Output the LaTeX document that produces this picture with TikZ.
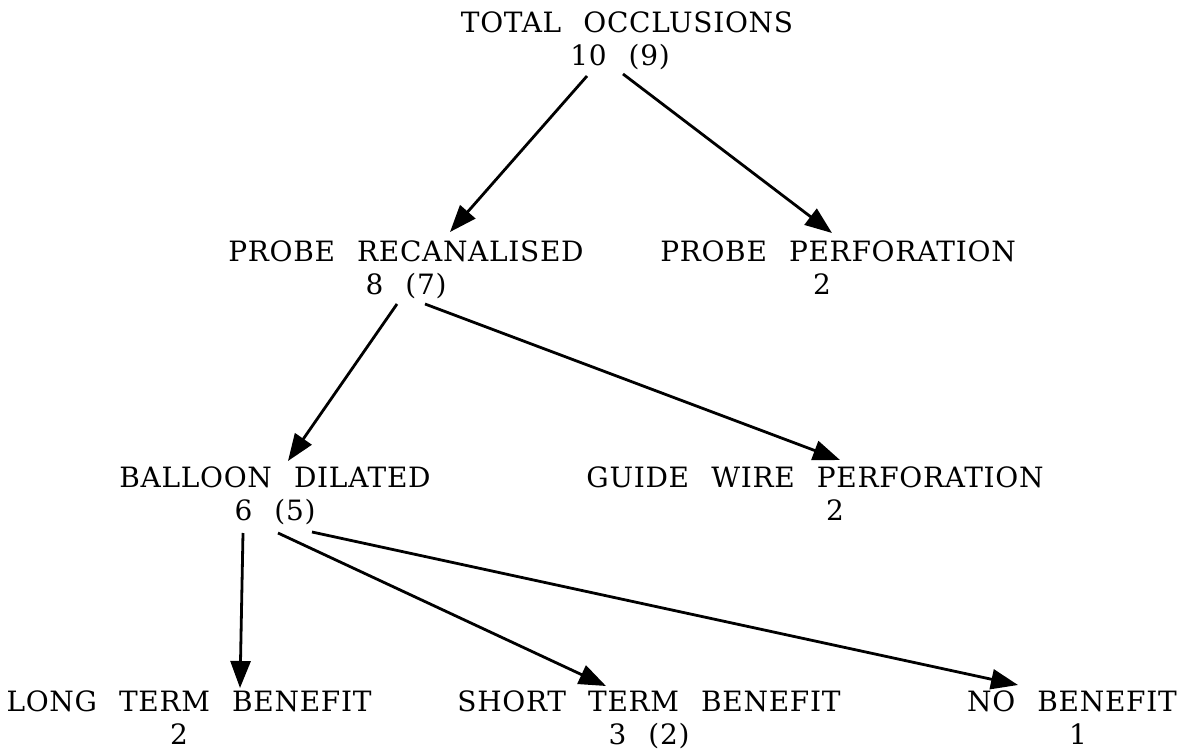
\documentclass[tikz,border=0pt]{standalone}
\usepackage{fontspec}
\setmainfont{DejaVu Serif}[WordSpace=2.3,LetterSpace=2.5]
\usetikzlibrary{arrows.meta,calc}
\begin{document}
\begin{tikzpicture}[x=1pt,y=-1pt,
  lbl/.style={anchor=north,inner sep=0pt,align=center,font=\fontsize{28}{33}\selectfont},
  arr/.style={line width=2.8pt,-{Triangle[length=27pt,width=20pt]}}]
\useasboundingbox (0,0) rectangle (1183,751);
\node[lbl] (top) at (627,12) {TOTAL OCCLUSIONS\\10 (9)\hspace*{14pt}};
\node[lbl] (pr) at (406,241) {PROBE RECANALISED\\8 (7)};
\node[lbl] (pp) at (838,241) {PROBE PERFORATION\\2\hspace*{32pt}};
\node[lbl] (bd) at (275,467) {BALLOON DILATED\\6 (5)};
\node[lbl] (gw) at (815,467) {GUIDE WIRE PERFORATION\\\hspace*{40pt}2};
\node[lbl] (lt) at (189,691) {LONG TERM BENEFIT\\2\hspace*{20pt}};
\node[lbl] (st) at (649,691) {SHORT TERM BENEFIT\\3 (2)};
\node[lbl] (nb) at (1072,691) {NO BENEFIT\\\hspace*{12pt}1};
\draw[arr] ($(top.north)+(-40,64)$) -- ($(pr.north)+(44,-9)$);
\draw[arr] ($(top.north)+(-4,62)$) -- ($(pp.north)+(-6,-8)$);
\draw[arr] ($(pr.north)+(-9,63)$) -- ($(bd.north)+(13,-6)$);
\draw[arr] ($(pr.north)+(19,63)$) -- ($(gw.north)+(25,-7)$);
\draw[arr] ($(bd.north)+(-32,66)$) -- ($(lt.north)+(51,-3)$);
\draw[arr] ($(bd.north)+(3,66)$) -- ($(st.north)+(-43,-5)$);
\draw[arr] ($(bd.north)+(37,65)$) -- ($(nb.north)+(-54,-6)$);
\end{tikzpicture}
\end{document}
